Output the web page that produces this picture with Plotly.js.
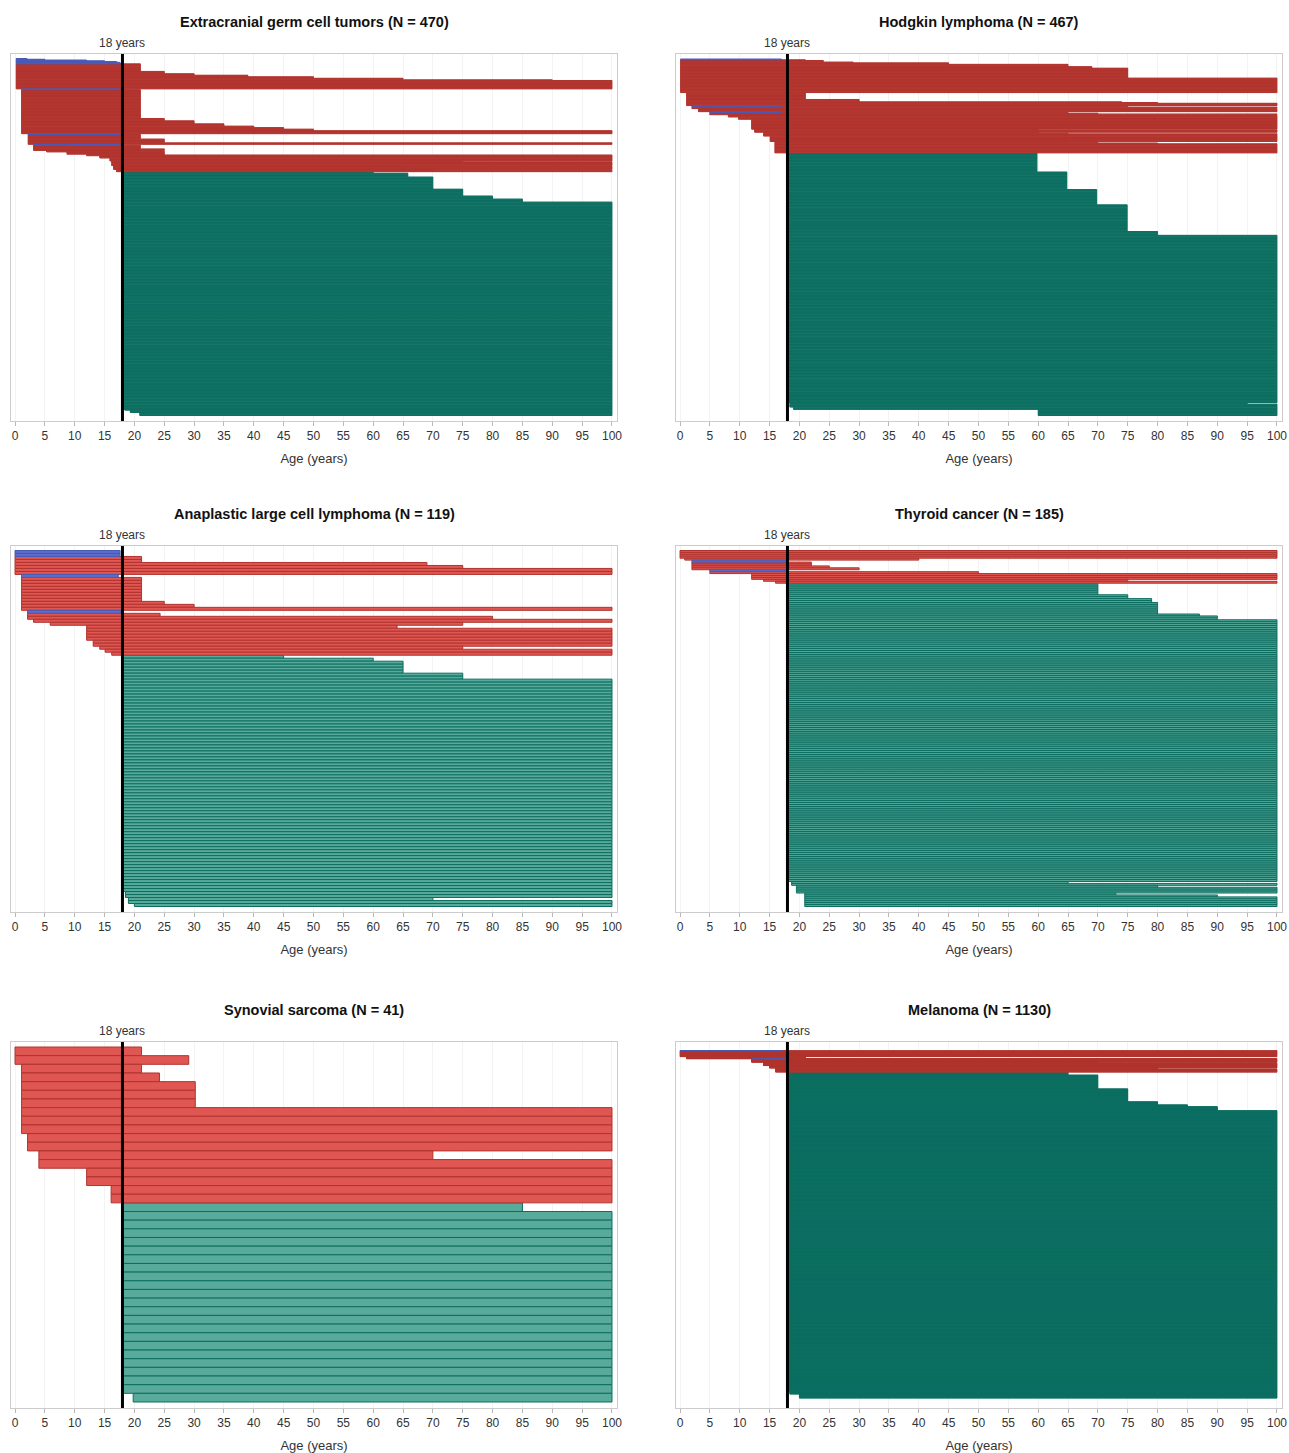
<!DOCTYPE html>
<html>
<head>
<meta charset="utf-8">
<script src="https://cdn.plot.ly/plotly-3.0.1.min.js"></script>
<style>
  html, body { margin: 0; padding: 0; background: #fff; }
  #chart { width: 1289px; height: 1453px; }
</style>
</head>
<body>
<div id="chart"></div>
<script>
// Follow-up per patient, grouped: every group shares an age at start and an age at end of follow-up.
// Rows are ordered by start age, then by end age.

// Extracranial germ cell tumors (N = 470)
const germStart = [0.2,0.2,0.2,0.2,0.2,0.2,0.2, 0.2,0.2,0.2,0.2,0.2,0.2,0.2,0.2,
  1.1,1.1,1.1,1.1,1.1,1.1,1.1,1.1,1.1, 2.2,2.2,2.2,2.2, 3.1,3.1,3.1, 5.3,5.3, 8.7, 12,12,
  14.2, 15.9, 16.2,16.2, 16.5,16.5, 17,17,
  18,18,18,18,18,18,18, 18.4, 19.3, 20.9];
const germEnd = [2,5,12,15,17,17.5,17.8, 21,25,30,39,50,65,90,100,
  17.6,21,25,30,35,40,45,50,100, 17.6,21,25,100, 17.6,21,25, 21,25, 25, 25,100,
  100, 100, 75,100, 65,100, 70,100,
  60,65.8,70,75,80,85,100, 100, 100, 100];
const germCount = [1,1,1,1,1,1,1, 10,3,2,2,2,2,1,11,
  1,38,3,4,3,2,2,2,4, 1,6,5,2, 1,5,2, 1,1, 3, 1,1,
  3, 4, 1,5, 1,4, 1,2,
  2,5,16,9,4,4,273, 1, 3, 4];

// Hodgkin lymphoma (N = 467)
const hodgStart = [0.1,0.1,0.1,0.1,0.1,0.1,0.1,0.1,0.1,
  1.1,1.1,1.1,1.1,1.1, 2,2,2, 3.1,3.1, 5,5,5,5, 8.1,8.1, 9.8, 12, 12.5,12.5,
  14,14,14, 15.1, 15.9,15.9,15.9,15.9,
  18,18,18,18,18,18, 18.4,18.4, 19, 60];
const hodgEnd = [17,21,24,29,45,65,69,75,100,
  21,30,74,80,100, 17,75,100, 80,100, 17,65,70,100, 65,100, 100, 100, 60,100,
  60,65,100, 100, 65,70,80,100,
  59.8,64.8,69.8,74.9,80,100, 95,100, 100, 100];
const hodgCount = [1,1,2,1,2,3,2,13,19,
  9,3,1,1,3, 1,1,2, 1,3, 1,1,1,1, 1,2, 3, 13, 1,3,
  1,1,3, 7, 1,1,1,12,
  25,23,20,35,5,219, 2,4, 3, 8];

// Anaplastic large cell lymphoma (N = 119)
const alclStart = [0,0,0,0,0, 1.1,1.1,1.1,1.1,1.1, 2.1,2.1,2.1, 3.1, 5.9, 12,12, 13.1, 14.2, 15.1, 16.2,
  18,18,18,18,18, 18.5, 19,19, 20];
const alclEnd = [17.6,21.2,69,75,100, 17.3,21.2,25,30,100, 17.8,24.3,80, 100, 75, 64,100, 100, 75, 100, 100,
  45,60,65,75,100, 100, 70,100, 100];
const alclCount = [2,2,1,1,2, 1,8,1,1,1, 1,1,1, 1, 1, 1,4, 2, 1, 1, 1,
  1,1,4,2,71, 2, 1,1, 1];

// Thyroid cancer (N = 185)
const thyrStart = [0, 0.8, 2,2,2,2, 5,5, 12, 14, 16,
  18.1,18.1,18.1,18.1,18.1,18.1,18.1, 18.7,18.7, 19.5,19.5, 20.9,20.9,20.9];
const thyrEnd = [100, 40, 17.8,22,25,30, 17.8,50, 100, 75, 100,
  70,75,79,80,87,90,100, 65,100, 80,100, 73,90,100];
const thyrCount = [4, 1, 1,2,1,1, 1,1, 3, 1, 1,
  6,2,2,6,1,2,136, 1,1, 1,3, 1,1,5];

// Synovial sarcoma (N = 41)
const synoStart = [0,0, 1.1,1.1,1.1,1.1, 2.1, 4,4, 12, 16.1, 18,18, 19.8];
const synoEnd = [21.2,29.1, 21.2,24.2,30.2,100, 100, 70,100, 100, 100, 85,100, 100];
const synoCount = [1,1, 1,1,3,3, 2, 1,1, 2, 2, 1,21, 1];

// Melanoma (N = 1130)
const melaStart = [0,0, 1.1,1.1, 12,12, 14,14, 15, 16,16,
  18,18,18,18,18,18,18, 18.4, 20];
const melaEnd = [17,100, 21,100, 17.8,100, 70,100, 100, 80,100,
  65,70,75,80,85,90,100, 100, 100];
const melaCount = [1,19, 6,1, 1,10, 3,8, 8, 4,9,
  10,45,42,10,6,13,911, 10, 13];

const panelTitles = [
  'Extracranial germ cell tumors (N = 470)',
  'Hodgkin lymphoma (N = 467)',
  'Anaplastic large cell lymphoma (N = 119)',
  'Thyroid cancer (N = 185)',
  'Synovial sarcoma (N = 41)',
  'Melanoma (N = 1130)'
];
const panelData = [
  [germStart, germEnd, germCount],
  [hodgStart, hodgEnd, hodgCount],
  [alclStart, alclEnd, alclCount],
  [thyrStart, thyrEnd, thyrCount],
  [synoStart, synoEnd, synoCount],
  [melaStart, melaEnd, melaCount]
];

const ADULT_AGE = 18;

// page geometry (pixels)
const W = 1289, H = 1453;
const colPx = [[11, 617], [676, 1282]];
const rowPx = [[54, 421], [546, 912], [1042, 1408]];
// inner padding above the first row / below the last row of each panel
const padTopPx = [4.5, 5, 4.5, 4.5, 5, 8.5];
const padBottomPx = [5.5, 5.5, 5.5, 5.5, 6, 10];

const STYLE = {
  teal: { fill: 'rgb(88,170,154)', line: 'rgb(12,110,96)' },
  red:  { fill: 'rgb(224,86,82)',  line: 'rgb(176,52,46)' },
  blue: { fill: 'rgb(92,108,200)', line: 'rgb(72,90,182)' }
};
const FONT = 'Liberation Sans, Arial, Helvetica, sans-serif';

const traces = [];
const layout = {
  width: W, height: H,
  margin: { l: 0, r: 0, t: 0, b: 0 },
  paper_bgcolor: '#fff', plot_bgcolor: '#fff',
  showlegend: false,
  barmode: 'overlay', bargap: 0,
  font: { family: FONT, color: '#333' },
  annotations: [], shapes: []
};

panelData.forEach(([start, end, count], i) => {
  const c = i % 2, r = Math.floor(i / 2);
  const s = i === 0 ? '' : String(i + 1);
  const xa = 'x' + s, ya = 'y' + s;

  // expand groups into one row per patient
  const rows = { teal: { y: [], x: [], base: [] }, red: { y: [], x: [], base: [] }, blue: { y: [], x: [], base: [] } };
  let n = 0;
  for (let g = 0; g < start.length; g++) {
    for (let k = 0; k < count[g]; k++) {
      const kind = end[g] < ADULT_AGE ? 'blue' : (start[g] < ADULT_AGE ? 'red' : 'teal');
      rows[kind].y.push(n);
      rows[kind].base.push(start[g]);
      rows[kind].x.push(end[g] - start[g]);
      n++;
    }
  }
  ['teal', 'red', 'blue'].forEach(kind => {
    if (!rows[kind].y.length) return;
    traces.push({
      type: 'bar', orientation: 'h', xaxis: xa, yaxis: ya,
      y: rows[kind].y, x: rows[kind].x, base: rows[kind].base,
      width: 1,
      marker: { color: STYLE[kind].fill, line: { color: STYLE[kind].line, width: 1 } },
      hoverinfo: 'skip'
    });
  });

  const hPx = rowPx[r][1] - rowPx[r][0];
  const rowH = (hPx - padTopPx[i] - padBottomPx[i]) / n;

  layout['xaxis' + s] = {
    domain: [colPx[c][0] / W, colPx[c][1] / W],
    anchor: ya,
    range: [-0.67, 100.84],
    tick0: 0, dtick: 5,
    ticks: 'outside', ticklen: 4, tickcolor: '#b8b8b8', tickwidth: 1,
    tickfont: { size: 12, color: '#333', family: FONT },
    showline: true, mirror: true, linecolor: '#cccccc', linewidth: 1,
    showgrid: true, gridcolor: '#f3f3f3', gridwidth: 1,
    zeroline: false, fixedrange: true,
    title: { text: 'Age (years)', font: { size: 13, color: '#333', family: FONT }, standoff: 11 }
  };
  layout['yaxis' + s] = {
    domain: [1 - rowPx[r][1] / H, 1 - rowPx[r][0] / H],
    anchor: xa,
    range: [n - 0.5 + padBottomPx[i] / rowH, -0.5 - padTopPx[i] / rowH],
    showticklabels: false, ticks: '', showgrid: false, zeroline: false,
    showline: true, mirror: true, linecolor: '#cccccc', linewidth: 1,
    fixedrange: true
  };

  layout.shapes.push({
    type: 'line', xref: xa, yref: ya + ' domain',
    x0: ADULT_AGE, x1: ADULT_AGE, y0: 0, y1: 1,
    line: { color: '#000', width: 3 }
  });
  layout.annotations.push({
    text: '<b>' + panelTitles[i] + '</b>',
    xref: xa + ' domain', x: 0.5, yref: ya + ' domain', y: 1,
    xanchor: 'center', yanchor: 'bottom', yshift: 22, showarrow: false,
    font: { size: 14.5, color: '#111', family: FONT }
  });
  layout.annotations.push({
    text: ADULT_AGE + ' years',
    xref: xa, x: ADULT_AGE, yref: ya + ' domain', y: 1,
    xanchor: 'center', yanchor: 'bottom', yshift: 2, showarrow: false,
    font: { size: 12, color: '#333', family: FONT }
  });
});

Plotly.newPlot('chart', traces, layout, { staticPlot: true, displayModeBar: false });
</script>
</body>
</html>
